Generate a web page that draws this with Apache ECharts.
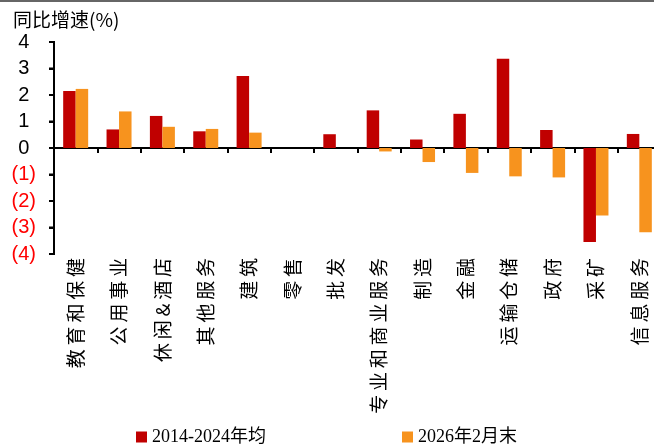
<!DOCTYPE html>
<html>
<head>
<meta charset="utf-8">
<script src="https://cdn.jsdelivr.net/npm/echarts@6/dist/echarts.min.js"></script>
<style>
html, body { margin: 0; padding: 0; background: #fff; }
#chart { width: 654px; height: 448px; }
</style>
</head>
<body>
<div id="chart"></div>
<script>
// 行业分类
var categories = ['教育和保健', '公用事业', '休闲&酒店', '其他服务', '建筑', '零售', '批发',
	'专业和商业服务', '制造', '金融', '运输仓储', '政府', '采矿', '信息服务'];
// 2014-2024年均 同比增速(%)
var avgGrowth = [2.15, 0.70, 1.21, 0.63, 2.72, 0, 0.52, 1.42, 0.32, 1.29, 3.37, 0.68, -3.55, 0.53];
// 2026年2月末 同比增速(%)
var latestGrowth = [2.23, 1.38, 0.80, 0.72, 0.58, 0, 0, -0.13, -0.53, -0.94, -1.07, -1.11, -2.55, -3.18];
var seriesNames = ['2014-2024年均', '2026年2月末'];
var yTicks = { min: -4, max: 4, interval: 1 };

var colors = ['#C00000', '#F7931E'];
var cjk = '"Noto Sans CJK SC", sans-serif';

(function()
{
	var mychart = echarts.init(document.getElementById('chart'));

	var W = 654, H = 448;
	var grid = { left: 54, right: -7, top: 42, bottom: 194 };
	var plotTop = grid.top, plotBottom = H - grid.bottom;

	// 纵轴轴线 + 刻度 (按网格布局画)
	var axisGraphics = [{
		type: 'line',
		shape: { x1: 0, y1: 1, x2: W, y2: 1 },
		style: { stroke: '#333', lineWidth: 1.5 },
		z: 100
	}, {
		type: 'line',
		shape: { x1: grid.left, y1: plotTop - 1, x2: grid.left, y2: plotBottom + 1 },
		style: { stroke: '#000', lineWidth: 2 },
		z: 100
	}];
	var steps = (yTicks.max - yTicks.min) / yTicks.interval;
	for (var i = 0; i <= steps; i++) {
		var py = plotTop + (plotBottom - plotTop) * i / steps;
		axisGraphics.push({
			type: 'line',
			shape: { x1: grid.left - 5, y1: py, x2: grid.left, y2: py },
			style: { stroke: '#000', lineWidth: 2 },
			z: 100
		});
	}

	var option = {
		animation: false,
		color: colors,
		title: {
			text: '同比增速(%)',
			left: 8,
			top: 5,
			textStyle: { fontSize: 19, fontWeight: 'normal', color: '#000', fontFamily: cjk }
		},
		graphic: { elements: axisGraphics },
		legend: [{
			data: [seriesNames[0]],
			left: 131,
			top: 423,
			icon: 'rect',
			itemWidth: 11,
			itemHeight: 11,
			textStyle: { fontSize: 18, color: '#000', fontFamily: '"Liberation Serif", "Noto Sans CJK SC", serif' }
		}, {
			data: [seriesNames[1]],
			left: 397,
			top: 423,
			icon: 'rect',
			itemWidth: 11,
			itemHeight: 11,
			textStyle: { fontSize: 18, color: '#000', fontFamily: '"Liberation Serif", "Noto Sans CJK SC", serif' }
		}],
		grid: {
			left: grid.left, right: grid.right, top: grid.top, bottom: grid.bottom,
			containLabel: false,
			outerBoundsMode: 'none'
		},
		xAxis: {
			type: 'category',
			data: categories,
			axisLine: { onZero: true, lineStyle: { color: '#000', width: 2 } },
			axisTick: { show: true, interval: 0, length: 5, lineStyle: { color: '#000', width: 2 } },
			axisLabel: {
				// 标签留在图底
				interval: 0,
				rotate: 90,
				margin: 4,
				fontSize: 19,
				color: '#000',
				fontFamily: cjk,
				formatter: function(v) { return v.split('').join('\u2009'); }
			}
		},
		yAxis: {
			type: 'value',
			position: 'left',
			min: yTicks.min,
			max: yTicks.max,
			interval: yTicks.interval,
			splitLine: { show: false },
			axisLine: { show: true, onZero: false, lineStyle: { color: '#000', width: 2 } },
			axisTick: { show: true, inside: false, length: 5, lineStyle: { color: '#000', width: 2 } },
			axisLabel: {
				margin: 18,
				fontSize: 20,
				fontFamily: '"Liberation Sans", Arial, sans-serif',
				formatter: function(v) {
					if (v < 0) return '{n|(' + Math.abs(v) + ')}';
					return '{p|' + v + '}{h|)}';
				},
				rich: {
					n: { color: '#FF0000', fontSize: 20, fontFamily: '"Liberation Sans", Arial, sans-serif' },
					p: { color: '#000', fontSize: 20, fontFamily: '"Liberation Sans", Arial, sans-serif' },
					h: { color: 'rgba(0,0,0,0)', fontSize: 20, fontFamily: '"Liberation Sans", Arial, sans-serif' }
				}
			}
		},
		series: [{
			name: seriesNames[0],
			type: 'bar',
			barWidth: 12.5,
			barGap: '0%',
			data: avgGrowth
		}, {
			name: seriesNames[1],
			type: 'bar',
			barWidth: 12.5,
			barGap: '0%',
			data: latestGrowth
		}]
	};
	mychart.setOption(option);
})();
</script>
</body>
</html>
